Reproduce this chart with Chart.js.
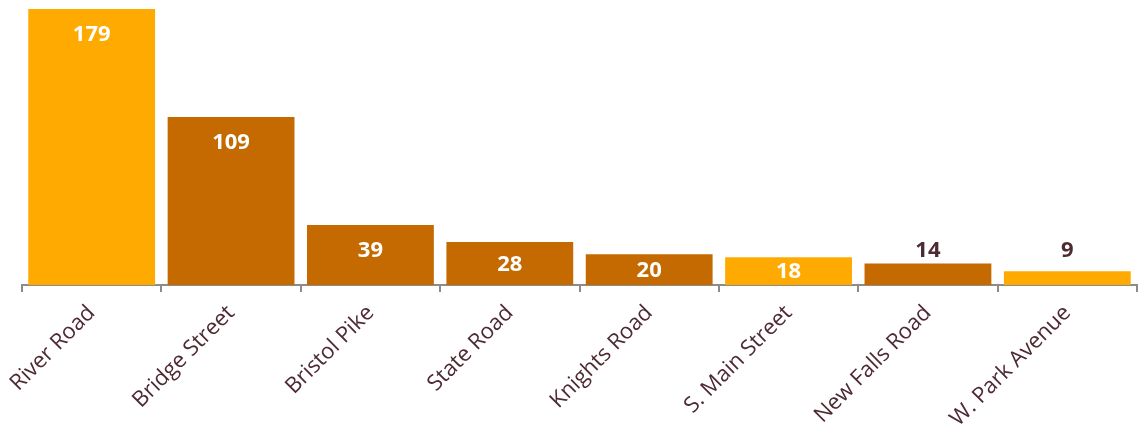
<!DOCTYPE html>
<html><head><meta charset="utf-8">
<script src="https://cdn.jsdelivr.net/npm/chart.js@4/dist/chart.umd.min.js"></script>
<style>html,body{margin:0;padding:0;background:#fff}#wrap{width:1139px;height:429px}</style>
</head><body><div id="wrap"><canvas id="c" width="1139" height="429"></canvas></div>
<script>
const categories = ["River Road","Bridge Street","Bristol Pike","State Road","Knights Road","S. Main Street","New Falls Road","W. Park Avenue"];
const values = [179,109,39,28,20,18,14,9];
const barColors = ["#FFAA00","#C46A00","#C46A00","#C46A00","#C46A00","#FFAA00","#C46A00","#FFAA00"];
const textDark = "#4E2A33";
const fontFam = "'Open Sans', 'Noto Sans', sans-serif";

const labelPlugin = {
  id: 'barLabels',
  afterDatasetsDraw(chart) {
    const ctx = chart.ctx;
    const meta = chart.getDatasetMeta(0);
    ctx.save();
    ctx.font = "bold 22px " + fontFam;
    ctx.textAlign = 'center';
    ctx.textBaseline = 'middle';
    meta.data.forEach((bar, i) => {
      const top = bar.y, base = bar.base;
      const h = base - top;
      let y, color;
      if (h >= 26) { y = Math.min(top + 26, (top + base) / 2 + 1); color = '#FFFFFF'; }
      else { y = Math.min(top - 12, base - 34); color = textDark; }
      ctx.fillStyle = color;
      ctx.fillText(String(values[i]), bar.x, y);
    });
    ctx.restore();
  }
};

new Chart(document.getElementById('c'), {
  type: 'bar',
  data: { labels: categories, datasets: [{ data: values, backgroundColor: barColors, borderWidth: 0, categoryPercentage: 1.0, barPercentage: 0.91 }] },
  options: {
    responsive: false, animation: false,
    layout: { padding: { top: 9, right: 2, left: 22, bottom: -11 } },
    plugins: { legend: { display: false }, tooltip: { enabled: false } },
    scales: {
      y: { display: false, min: 0, max: 179 },
      x: {
        grid: { display: true, drawOnChartArea: false, drawTicks: true, tickLength: 7, color: '#8C8C8C', lineWidth: 2, offset: true },
        border: { display: true, color: '#8C8C8C', width: 2 },
        ticks: { color: textDark, font: { family: fontFam, size: 22 }, minRotation: 45, maxRotation: 45, padding: 8, autoSkip: false }
      }
    }
  },
  plugins: [labelPlugin]
});
</script></body></html>
